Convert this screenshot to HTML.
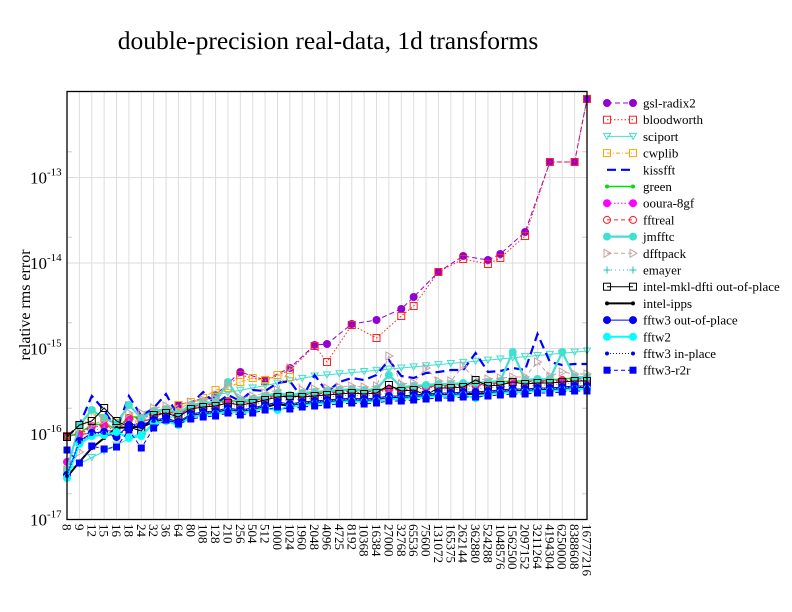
<!DOCTYPE html>
<html><head><meta charset="utf-8"><style>
html,body{margin:0;padding:0;background:#fff;}
svg{display:block;font-family:"Liberation Serif",serif;}
</style></head><body>
<svg id="s" width="792" height="612" viewBox="0 0 792 612" xmlns="http://www.w3.org/2000/svg">
<rect width="792" height="612" fill="#fff"/>
<text x="328" y="49" font-size="25.5" text-anchor="middle">double-precision real-data, 1d transforms</text>
<text transform="translate(30,305) rotate(-90)" font-size="16" text-anchor="middle">relative rms error</text>
<g id="grid"></g>
<g id="data"></g>
<rect x="67" y="91.5" width="520" height="428" fill="none" stroke="#000" stroke-width="1.3"/>
<g id="labels"></g>
<g id="legend"></g>
</svg>
<script>
var NS="http://www.w3.org/2000/svg";
function el(p,t,a,txt){var e=document.createElementNS(NS,t);for(var k in a)e.setAttribute(k,a[k]);if(txt!=null)e.textContent=txt;p.appendChild(e);return e;}
var g=document.getElementById('grid'),d=document.getElementById('data'),L=document.getElementById('labels'),lg=document.getElementById('legend');
var cats=["8","9","12","15","16","18","24","32","36","64","80","108","128","210","256","504","512","1000","1024","1960","2048","4096","4725","8192","10368","16384","27000","32768","65536","75600","131072","165375","262144","362880","524288","1048576","1562500","2097152","3211264","4194304","6250000","8388608","16777216"];
function X(i){return 67+i*520/42;}
var y0=519.5,dec=85.5;
for(var i=0;i<43;i++){el(g,'line',{x1:X(i),x2:X(i),y1:91.5,y2:519.5,stroke:'#ddd','stroke-width':1});
 var t=el(L,'text',{transform:'translate('+(X(i)-4.5)+',524) rotate(90)','font-size':'13'},cats[i]);}
for(var k=0;k<5;k++){var yy=y0-k*dec;el(g,'line',{x1:67,x2:587,y1:yy,y2:yy,stroke:'#ddd','stroke-width':1});
 var ym=yy-0.301*dec;el(g,'line',{x1:67,x2:72,y1:ym,y2:ym,stroke:'#ccc'});el(g,'line',{x1:582,x2:587,y1:ym,y2:ym,stroke:'#ccc'});
 var tx=el(L,'text',{x:30,y:yy+6,'font-size':'17'},'10');el(tx,'tspan',{dy:-8,'font-size':'11'},'-'+(17-k));}
var b=[475,441,433,432,437,425,425,420,418,422,414,412,411,408,410,408,405,402,404,402,401,400,399,398,399,398,396,396,395,394,393,393,392,392,391,390,389,389,388,388,387,386,386];
function off(o,over){var a=b.map(function(v){return v+o;});for(var k in over)a[k]=over[k];return a;}
var gsl={0:436,4:430,7:418,9:405,12:395,14:372,16:380,18:368,20:345,21:344,23:324,25:320,27:309,28:297,30:272,32:256,34:260,35:254,37:232,39:162,41:162,42:99};
var blo={0:436,4:430,7:418,9:405,12:397,14:375,16:381,18:370,20:346,21:362,23:325,25:338,27:316,28:306,30:272,32:259,34:264,35:258,37:236,39:162,41:162,42:99};
function pts(obj){var r=[];for(var k in obj)r.push([+k,obj[k]]);r.sort(function(a,b){return a[0]-b[0]});return r;}
function arr(a){return a.map(function(v,i){return [i,v];});}
var sci=[];for(var i=0;i<43;i++){var v=i<12?470-(i*75/12):(i<20?395-(i-12)*19/8:376-(i-20)*25/22);sci.push([i,v]);}
var kiss=arr([437,425,396,410,430,396,416,408,394,417,404,392,404,395,401,390,391,383,381,398,375,392,382,378,380,375,360,376,378,373,372,370,370,353,372,371,368,370,334,362,365,364,364]);
var cw=pts({0:437,1:430,2:414,3:418,4:423,5:418,6:423,7:412,8:410,9:405,10:402,11:398,12:390,13:388,14:382,15:378,16:380,17:375,18:377});
var jm=arr(off(-9,{0:470,1:425,2:410,3:418,4:424,5:405,6:418,13:382,26:375,36:352,40:352}));
var dff=arr(off(-12,{0:470,1:452,2:425,3:420,4:432,13:384,18:368,26:356,29:368,32:366,38:362,40:372}));
var mkl=arr(off(-5,{0:437,1:425,2:421,3:408,4:421,5:427,6:431,18:396,26:385,29:395,33:380,36:382}));
var series=[
 {n:'gsl-radix2',c:'#9400d3',w:1,da:'5,3',m:'circle',p:pts(gsl)},
 {n:'bloodworth',c:'#ff2020',w:1,da:'1.5,2',m:'sqo',p:pts(blo)},
 {n:'sciport',c:'#40e0d0',w:1,da:'',m:'tri',p:sci},
 {n:'cwplib',c:'#ffa500',w:1,da:'4,2,1,2',m:'sqo',p:cw},
 {n:'kissfft',c:'#0000ff',w:2.2,da:'9,5',m:'',p:kiss},
 {n:'green',c:'#00e000',w:1.5,da:'',m:'dot',p:arr(off(-8,{0:437}))},
 {n:'ooura-8gf',c:'#ff00ff',w:1,da:'1.5,2',m:'circle',p:arr(off(-6,{0:462}))},
 {n:'fftreal',c:'#ff2020',w:1,da:'4,3',m:'circo',p:arr(off(-7,{0:437}))},
 {n:'jmfftc',c:'#40e0d0',w:2.2,da:'',m:'circle',p:jm},
 {n:'dfftpack',c:'#c8a0a0',w:1,da:'4,3',m:'trio',p:dff},
 {n:'emayer',c:'#20c0c0',w:1,da:'1,3',m:'plus',p:arr(off(-3,{}))},
 {n:'intel-mkl-dfti out-of-place',c:'#000',w:1,da:'',m:'sqo',p:mkl},
 {n:'intel-ipps',c:'#000',w:2,da:'',m:'dot',p:arr(off(2,{1:462,2:448,3:438,4:428}))},
 {n:'fftw3 out-of-place',c:'#0000ff',w:1,da:'',m:'circle',p:arr(b)},
 {n:'fftw2',c:'#00ffff',w:2,da:'',m:'circle',p:arr(off(3,{4:432,5:438,6:436,17:410,33:398}))},
 {n:'fftw3 in-place',c:'#0000ff',w:1,da:'1,2',m:'dot',p:arr(off(1,{}))},
 {n:'fftw3-r2r',c:'#0000ff',w:1,da:'4,3',m:'sq',p:arr(off(5,{0:450,1:463,2:446,3:449,4:447,5:430,6:448,7:428,8:420,9:424}))}
];
function mark(p,m,x,y,c){
 if(m=='circle')el(p,'circle',{cx:x,cy:y,r:4,fill:c});
 else if(m=='circo')el(p,'circle',{cx:x,cy:y,r:3.5,fill:'none',stroke:c});
 else if(m=='dot')el(p,'circle',{cx:x,cy:y,r:2,fill:c});
 else if(m=='sqo')el(p,'rect',{x:x-3.5,y:y-3.5,width:7,height:7,fill:'none',stroke:c});
 else if(m=='sq')el(p,'rect',{x:x-3.5,y:y-3.5,width:7,height:7,fill:c});
 else if(m=='tri')el(p,'polygon',{points:(x-3.5)+','+(y-3)+' '+(x+3.5)+','+(y-3)+' '+x+','+(y+3),fill:'none',stroke:c});
 else if(m=='trio')el(p,'polygon',{points:(x-3)+','+(y-4)+' '+(x-3)+','+(y+4)+' '+(x+4)+','+y,fill:'none',stroke:c});
 else if(m=='plus'){el(p,'path',{d:'M'+(x-3.5)+' '+y+'h7M'+x+' '+(y-3.5)+'v7',stroke:c});}
}
series.forEach(function(s,k){
 var dd=s.p.map(function(q,j){return (j?'L':'M')+X(q[0]).toFixed(1)+' '+q[1];}).join('');
 var a={d:dd,fill:'none',stroke:s.c,'stroke-width':s.w};if(s.da)a['stroke-dasharray']=s.da;el(d,'path',a);
 s.p.forEach(function(q){mark(d,s.m,X(q[0]),q[1],s.c);});
 var ly=103+k*16.7;
 var la={d:'M607 '+ly+'H633',stroke:s.c,'stroke-width':s.w};if(s.da)la['stroke-dasharray']=s.da;el(lg,'path',la);
 if(s.m){mark(lg,s.m,607,ly,s.c);mark(lg,s.m,633,ly,s.c);}
 el(lg,'text',{x:643,y:ly+4.5,'font-size':'13'},s.n);
});
</script>
</body></html>
